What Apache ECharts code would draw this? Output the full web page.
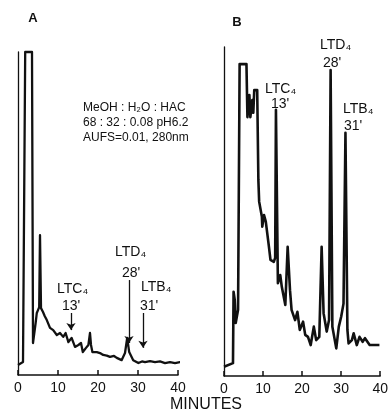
<!DOCTYPE html>
<html>
<head>
<meta charset="utf-8">
<script src="https://cdn.jsdelivr.net/npm/echarts@6.0.0/dist/echarts.min.js"></script>
<style>
  html, body { margin: 0; padding: 0; background: #fff; }
  #chart { width: 391px; height: 413px; }
</style>
</head>
<body>
<div id="chart"></div>
<script>
// panel A: retention time (min) vs detector response (% of full scale)
const timeA = [0, 1.25, 1.6, 1.8, 3.5, 3.75, 4.0, 4.4, 4.7, 5.0, 5.3, 5.5, 5.75, 6.25, 6.7, 7.2, 8.0, 8.8, 9.7, 10.5, 11.3, 11.9, 12.6, 13.4, 14.25, 15.1, 15.75, 16.2, 17.0, 17.6, 18.0, 18.25, 18.6, 19.7, 20.5, 21.3, 22.2, 23.0, 24.0, 24.7, 25.9, 26.75, 27.3, 27.8, 28.8, 30.1, 31.0, 31.75, 33.0, 34.25, 35.5, 36.75, 38.0, 39.25, 40.5, 42.2];
const signalA = [3.1, 4.0, 4.0, 100, 100, 9.9, 10.5, 16, 19.2, 20.1, 21, 43.3, 20.7, 19.5, 18.2, 17.0, 14.6, 13.9, 12.4, 13.0, 11.8, 13.0, 10.2, 11.5, 8.7, 9.3, 9.9, 7.1, 8.4, 9.3, 13.0, 9.3, 7.1, 7.1, 6.8, 6.2, 6.0, 5.6, 5.9, 5.3, 4.6, 6.8, 11.5, 7.1, 4.6, 3.7, 4.2, 4.0, 4.3, 4.0, 4.2, 3.7, 4.0, 3.7, 4.0, 3.7];

// panel B
const timeB = [0, 2.3, 2.45, 2.75, 3.0, 3.6, 4.0, 5.75, 6.0, 6.5, 6.75, 7.25, 7.5, 7.75, 8.5, 8.8, 9.0, 9.7, 9.8, 10.25, 10.7, 11.5, 11.9, 12.75, 13.1, 13.3, 13.8, 14.4, 14.8, 15.7, 16.3, 16.9, 17.3, 18.2, 18.8, 19.4, 20.25, 20.8, 21.5, 22.2, 23.0, 23.6, 24.4, 25.0, 25.5, 26.3, 26.9, 27.3, 27.75, 28.75, 29.4, 30.0, 30.6, 31.1, 31.6, 31.9, 32.75, 33.2, 34.0, 34.7, 35.5, 36.1, 37.3, 39.8];
const signalB = [2.8, 3.9, 25.6, 23.1, 16.1, 20.1, 94.8, 94.8, 78.7, 85.4, 78.7, 83.9, 80, 86.9, 86.9, 59.6, 53.0, 48.4, 45.4, 48.9, 46.9, 39.3, 35.3, 34.7, 35.9, 80.9, 28.2, 30.7, 27.1, 21.6, 39.3, 26.1, 20.1, 17.0, 19.5, 14.0, 16.5, 12.5, 11.9, 9.4, 15.0, 10.9, 11.9, 39.3, 19.1, 13.5, 17, 93.0, 15.0, 8.4, 15.0, 18.0, 22, 73.9, 14, 9.9, 10.9, 13.0, 9.4, 11.9, 10.4, 11.5, 9.4, 9.4];

const minuteTicks = [0, 10, 20, 30, 40];
const peakNames = ['LTC\u2084', 'LTD\u2084', 'LTB\u2084'];
const peakTimes = ["13'", "28'", "31'"];
// arrows in panel A: [time, from, to]
const arrowsA = [[13.25, 19.2, 13.9], [27.75, 29.4, 9.9], [31.25, 19.2, 8.4]];
const conditions = ['MeOH : H\u2082O : HAC', '68 : 32 : 0.08 pH6.2', 'AUFS=0.01, 280nm'];

const ink = '#111';
const font = '"Liberation Sans", Arial, sans-serif';

const chart = echarts.init(document.getElementById('chart'));

function xAxisFor(i) {
  return {
    gridIndex: i, type: 'value', min: 0, max: 40, interval: 10,
    axisLine: { lineStyle: { color: ink, width: 1.5 } },
    axisTick: { inside: true, length: 5, lineStyle: { color: ink, width: 1.5 } },
    axisLabel: {
      color: ink, fontSize: 14, fontFamily: font, margin: 6,
      formatter: v => minuteTicks.includes(v) ? String(v) : ''
    },
    splitLine: { show: false }
  };
}
function yAxisFor(i) {
  return {
    gridIndex: i, type: 'value', min: 0, max: 100,
    axisLine: { show: true, lineStyle: { color: ink, width: 1.3 } },
    axisTick: { show: false }, axisLabel: { show: false }, splitLine: { show: false }
  };
}

function label(text, x, y, size, align, weight) {
  return {
    type: 'text', x: x, y: y, silent: true,
    style: { text: text, fill: ink, fontSize: size, fontFamily: font, fontWeight: weight || 'normal', align: align || 'left', verticalAlign: 'middle' }
  };
}

const graphics = [
  label('A', 33, 18, 13, 'center', 'bold'),
  label('B', 237, 22, 13, 'center', 'bold'),
  label('MINUTES', 206, 405, 16, 'center'),
  // panel A peak labels
  label(peakNames[0], 57, 289, 14), label(peakTimes[0], 71, 306, 14, 'center'),
  label(peakNames[1], 115, 252, 14), label(peakTimes[1], 131, 273, 14, 'center'),
  label(peakNames[2], 141, 287, 14), label(peakTimes[2], 149, 306, 14, 'center'),
  // panel B peak labels
  label(peakNames[0], 265, 89, 14), label(peakTimes[0], 280, 104, 14, 'center'),
  label(peakNames[1], 320, 45, 14), label(peakTimes[1], 332, 63, 14, 'center'),
  label(peakNames[2], 343, 109, 14), label(peakTimes[2], 353, 126, 14, 'center')
];
conditions.forEach((t, i) => graphics.push(label(t, 83, 108 + i * 15, 12)));

chart.setOption({
  animation: false,
  backgroundColor: '#fff',
  grid: [
    { left: 18, top: 52, width: 160, height: 323 },
    { left: 224, top: 47, width: 160, height: 329 }
  ],
  xAxis: [xAxisFor(0), xAxisFor(1)],
  yAxis: [yAxisFor(0), yAxisFor(1)],
  series: [
    {
      type: 'line', xAxisIndex: 0, yAxisIndex: 0, clip: false,
      data: timeA.map((t, i) => [t, signalA[i]]),
      showSymbol: false, symbol: 'none',
      lineStyle: { color: ink, width: 2.3, join: 'round' },
      markLine: {
        silent: true, symbol: ['none', 'arrow'], symbolSize: 7,
        label: { show: false },
        lineStyle: { color: ink, width: 1.3, type: 'solid' },
        data: arrowsA.map(a => [{ coord: [a[0], a[1]] }, { coord: [a[0], a[2]] }])
      }
    },
    {
      type: 'line', xAxisIndex: 1, yAxisIndex: 1,
      data: timeB.map((t, i) => [t, signalB[i]]),
      showSymbol: false, symbol: 'none',
      lineStyle: { color: ink, width: 2.6, join: 'round' }
    }
  ],
  graphic: graphics
});
</script>
</body>
</html>
